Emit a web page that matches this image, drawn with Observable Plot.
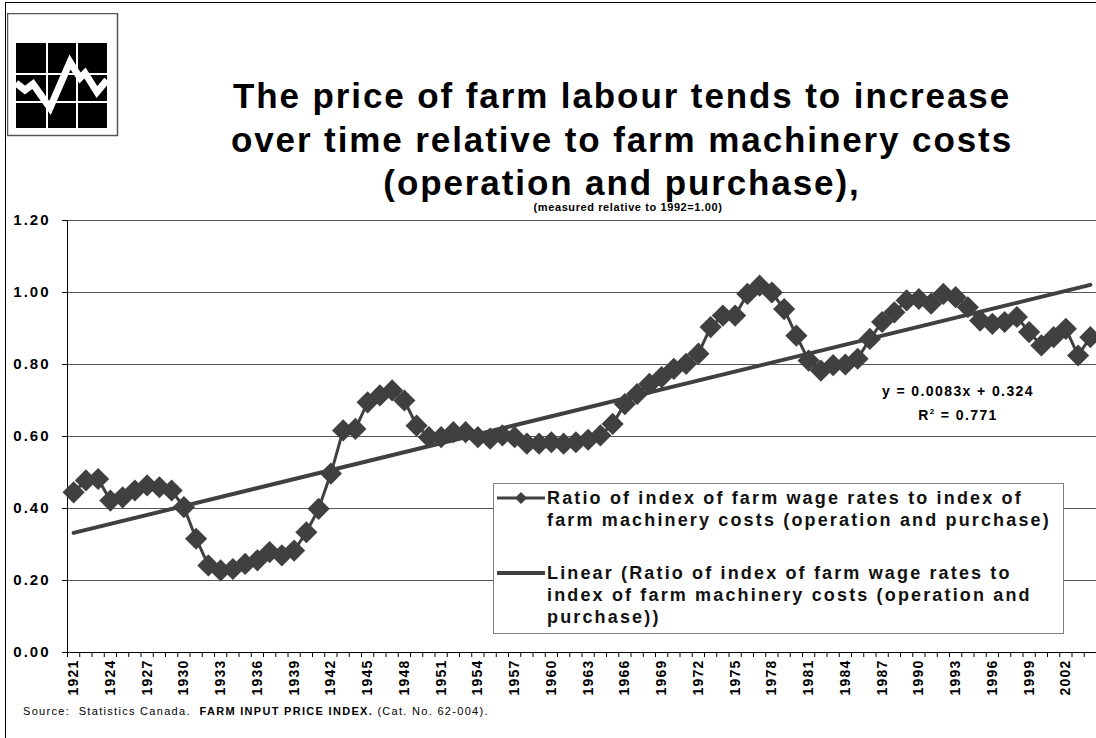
<!DOCTYPE html>
<html>
<head>
<meta charset="utf-8">
<script src="https://cdn.jsdelivr.net/npm/d3@7"></script>
<script src="https://cdn.jsdelivr.net/npm/@observablehq/plot@0.6"></script>
<style>
  html, body { margin: 0; padding: 0; background: #fff; }
  body { width: 1096px; height: 738px; overflow: hidden; position: relative; font-family: "Liberation Sans", Arial, sans-serif; }
  #frame { position: absolute; left: 5px; top: 2px; width: 1200px; height: 800px; border: 1px solid #000; box-sizing: border-box; }
  #logo { position: absolute; left: 7px; top: 13px; }
  #title { position: absolute; left: 148px; width: 948px; top: 74px; text-align: center; font-weight: bold; font-size: 35px; letter-spacing: 1.9px; line-height: 43.5px; color: #000; }
  #subtitle { position: absolute; left: 148px; width: 960px; top: 201px; text-align: center; font-weight: bold; font-size: 11px; letter-spacing: 0.6px; color: #000; }
  #chart { position: absolute; left: 0; top: 210px; }
  #chart g[aria-label="y-axis tick label"] text { letter-spacing: 2px; }
  #chart g[aria-label="x-axis tick label"] text { letter-spacing: 1.2px; }
  #legend { position: absolute; left: 493px; top: 483px; width: 571px; height: 151px; border: 1px solid #808080; background: #fff; box-sizing: border-box; }
  .lg { position: absolute; left: 53px; font-weight: bold; font-size: 18px; letter-spacing: 2.15px; line-height: 22px; color: #111; white-space: nowrap; }
  .sym { position: absolute; left: 3px; }
  #eq { position: absolute; left: 858px; width: 200px; top: 379px; text-align: center; font-weight: bold; font-size: 14px; letter-spacing: 1.4px; line-height: 24px; color: #000; }
  #eq sup { font-size: 8px; line-height: 0; }
  #source { position: absolute; left: 23px; top: 705px; font-size: 11px; letter-spacing: 1.3px; color: #000; white-space: pre; }
</style>
</head>
<body>
<div id="frame"></div>
<svg id="logo" width="112" height="124" viewBox="0 0 112 124">
  <rect x="0.5" y="0.5" width="110" height="122" fill="#fff" stroke="#555" stroke-width="1.5"/>
  <rect x="9" y="30" width="91" height="85" fill="#000"/>
  <line x1="40" y1="30" x2="40" y2="115" stroke="#fff" stroke-width="2"/>
  <line x1="70" y1="30" x2="70" y2="115" stroke="#fff" stroke-width="2"/>
  <line x1="9" y1="61" x2="100" y2="61" stroke="#fff" stroke-width="2"/>
  <line x1="9" y1="89" x2="100" y2="89" stroke="#fff" stroke-width="2"/>
  <polyline points="9,70 18,77 26,71 43,95 63,49 73,65 78,60 90,79 100,67" fill="none" stroke="#fff" stroke-width="7" stroke-linejoin="miter"/>
</svg>
<div id="title">The price of farm labour tends to increase<br>over time relative to farm machinery costs<br>(operation and purchase),</div>
<div id="subtitle">(measured relative to 1992=1.00)</div>
<div id="chart"></div>
<div id="eq">y = 0.0083x + 0.324<br>R<sup>2</sup> = 0.771</div>
<div id="legend">
  <svg class="sym" style="top:6px" width="50" height="16"><line x1="0" y1="8" x2="48" y2="8" stroke="#404040" stroke-width="3"/><path d="M24,2 L30,8 L24,14 L18,8 Z" fill="#404040"/></svg>
  <div class="lg" style="top:3px">Ratio of index of farm wage rates to index of<br>farm machinery costs (operation and purchase)</div>
  <svg class="sym" style="top:81px" width="50" height="16"><line x1="0" y1="8" x2="48" y2="8" stroke="#404040" stroke-width="4"/></svg>
  <div class="lg" style="top:78px">Linear (Ratio of index of farm wage rates to<br>index of farm machinery costs (operation and<br>purchase))</div>
</div>
<div id="source">Source:  Statistics Canada.  <b>FARM INPUT PRICE INDEX.</b> (Cat. No. 62-004).</div>
<script>
// ---- data ----
const years = [1921,1922,1923,1924,1925,1926,1927,1928,1929,1930,
  1931,1932,1933,1934,1935,1936,1937,1938,1939,1940,
  1941,1942,1943,1944,1945,1946,1947,1948,1949,1950,
  1951,1952,1953,1954,1955,1956,1957,1958,1959,1960,
  1961,1962,1963,1964,1965,1966,1967,1968,1969,1970,
  1971,1972,1973,1974,1975,1976,1977,1978,1979,1980,
  1981,1982,1983,1984,1985,1986,1987,1988,1989,1990,
  1991,1992,1993,1994,1995,1996,1997,1998,1999,2000,
  2001,2002,2003,2004];
const ratio = [0.445,0.478,0.482,0.422,0.431,0.450,0.464,0.459,0.450,0.404,
  0.316,0.242,0.228,0.232,0.246,0.256,0.279,0.270,0.283,0.334,
  0.399,0.497,0.617,0.621,0.695,0.714,0.728,0.700,0.630,0.598,
  0.598,0.612,0.612,0.598,0.594,0.603,0.598,0.580,0.580,0.584,
  0.580,0.584,0.591,0.603,0.635,0.690,0.718,0.746,0.765,0.788,
  0.802,0.830,0.904,0.936,0.936,0.996,1.019,1.000,0.954,0.880,
  0.811,0.783,0.798,0.800,0.816,0.871,0.918,0.945,0.978,0.982,
  0.969,0.996,0.987,0.959,0.922,0.913,0.918,0.932,0.890,0.853,
  0.876,0.899,0.825,0.876];
const labelYears = [1921,1924,1927,1930,1933,1936,1939,1942,1945,1948,1951,1954,1957,1960,1963,1966,1969,1972,1975,1978,1981,1984,1987,1990,1993,1996,1999,2002];
const yTicks = [0, 0.2, 0.4, 0.6, 0.8, 1.0, 1.2];
const trendSlope = 0.0083;      // from the chart's trend equation
const trendIntercept = 0.324;

// ---- derived tables ----
const series = years.map((year, i) => ({year, value: ratio[i]}));
const trend = [years[0], years[years.length - 1]].map(year => ({
  year, value: trendIntercept + trendSlope * (year - years[0] + 1)
}));
const bounds = [...years.map(y => y - 0.5), years[years.length - 1] + 0.5];

const ink = "#404040";
const chart = Plot.plot({
  width: 1096,
  height: 492,
  marginTop: 10,
  marginLeft: 67,
  marginRight: 0,
  marginBottom: 50,
  style: {fontFamily: "'Liberation Sans', Arial, sans-serif", background: "transparent", color: "#000"},
  x: {type: "linear", domain: [years[0] - 0.5, years[years.length - 1] + 0.5]},
  y: {domain: [0, 1.2]},
  marks: [
    Plot.gridY(yTicks, {stroke: "#555", strokeOpacity: 1, strokeWidth: 1}),
    Plot.ruleX([years[0] - 0.5], {stroke: "#000", strokeWidth: 1}),
    Plot.ruleY([0], {stroke: "#000", strokeWidth: 1}),
    Plot.axisY({ticks: yTicks, tickSize: 5, tickPadding: 12, label: null, tickFormat: d => d.toFixed(2), fontWeight: "bold", fontSize: 15}),
    Plot.axisX({ticks: bounds, tickSize: 5, label: null, tickFormat: () => ""}),
    Plot.axisX({ticks: labelYears, tickSize: 0, tickPadding: 7, tickRotate: -90, label: null, tickFormat: d => String(d), fontWeight: "bold", fontSize: 14}),
    Plot.line(series, {x: "year", y: "value", stroke: ink, strokeWidth: 3}),
    Plot.dot(series, {x: "year", y: "value", symbol: "diamond2", r: 10, fill: ink, stroke: "none"}),
    Plot.line(trend, {x: "year", y: "value", stroke: ink, strokeWidth: 4})
  ]
});
document.getElementById("chart").appendChild(chart);
</script>
</body>
</html>
